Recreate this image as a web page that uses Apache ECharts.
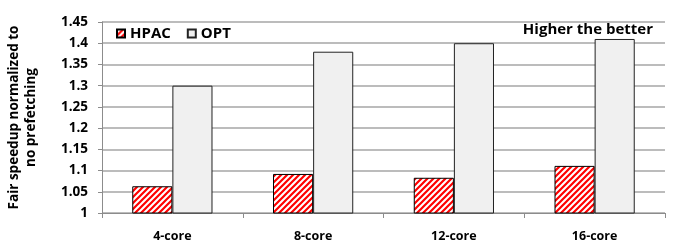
<!DOCTYPE html>
<html>
<head>
<meta charset="utf-8">
<script src="https://cdn.jsdelivr.net/npm/echarts@6/dist/echarts.min.js"></script>
<style>
  html, body { margin: 0; padding: 0; background: #fff; }
  #chart { width: 682px; height: 246px; }
</style>
</head>
<body>
<div id="chart"></div>
<script>
// data
const cores = ['4-core', '8-core', '12-core', '16-core']
const hpac = [1.063, 1.092, 1.083, 1.111]
const opt = [1.30, 1.38, 1.40, 1.41]
const yTicks = ['1', '1.05', '1.1', '1.15', '1.2', '1.25', '1.3', '1.35', '1.4', '1.45']

// red diagonal stripes
function stripes() {
  const c = document.createElement('canvas')
  c.width = 6
  c.height = 6
  const ctx = c.getContext('2d')
  ctx.fillStyle = '#fff'
  ctx.fillRect(0, 0, 6, 6)
  ctx.strokeStyle = '#ff0000'
  ctx.lineWidth = 2.2
  ctx.beginPath()
  ctx.moveTo(-1, 7); ctx.lineTo(7, -1)
  ctx.moveTo(-1, 1); ctx.lineTo(1, -1)
  ctx.moveTo(5, 7); ctx.lineTo(7, 5)
  ctx.stroke()
  return c
}

const font = '"Open Sans", Lato, sans-serif'
const mycharts = echarts.init(document.getElementById('chart'))
const option = {
  animation: false,
  textStyle: { fontFamily: font },
  grid: { left: 102, right: 17, top: 22, bottom: 33, containLabel: false, outerBoundsMode: 'none' },
  legend: {
    left: 111,
    top: 21,
    itemWidth: 8,
    itemHeight: 8,
    itemGap: 16,
    icon: 'rect',
    textStyle: { fontFamily: font, fontWeight: 'bold', fontSize: 15, color: '#000' },
    data: ['HPAC', 'OPT']
  },
  graphic: [{
    type: 'text',
    right: 29,
    top: 22,
    style: { text: 'Higher the better', font: 'bold 15px ' + font, fill: '#000' }
  }],
  xAxis: {
    type: 'category',
    data: cores,
    axisLine: { lineStyle: { color: '#8c8c8c', width: 1 } },
    axisTick: { show: true, length: 5, lineStyle: { color: '#8c8c8c' } },
    axisLabel: { color: '#000', fontWeight: 'bold', fontSize: 12.5, margin: 17 }
  },
  yAxis: {
    type: 'value',
    min: 1,
    max: 1.45,
    interval: 0.05,
    name: 'Fair speedup normalized to\nno prefetching',
    nameLocation: 'middle',
    nameGap: 62,
    nameTextStyle: { color: '#000', fontWeight: 'bold', fontSize: 13.5, lineHeight: 17 },
    axisLine: { show: true, lineStyle: { color: '#8c8c8c', width: 1 } },
    axisTick: { show: true, length: 4, lineStyle: { color: '#8c8c8c' } },
    axisLabel: {
      color: '#000', fontWeight: 'bold', fontSize: 13.5, margin: 14,
      formatter: v => yTicks[Math.round((v - 1) / 0.05)]
    },
    splitLine: { lineStyle: { color: '#a6a6a6', width: 1.5 } }
  },
  series: [
    {
      name: 'HPAC',
      type: 'bar',
      data: hpac,
      barGap: '0%',
      barCategoryGap: '43%',
      itemStyle: { color: { image: stripes(), repeat: 'repeat' }, borderColor: '#000', borderWidth: 1 }
    },
    {
      name: 'OPT',
      type: 'bar',
      data: opt,
      itemStyle: { color: '#f0f0f0', borderColor: '#222', borderWidth: 1 }
    }
  ]
}
mycharts.setOption(option)
</script>
</body>
</html>
